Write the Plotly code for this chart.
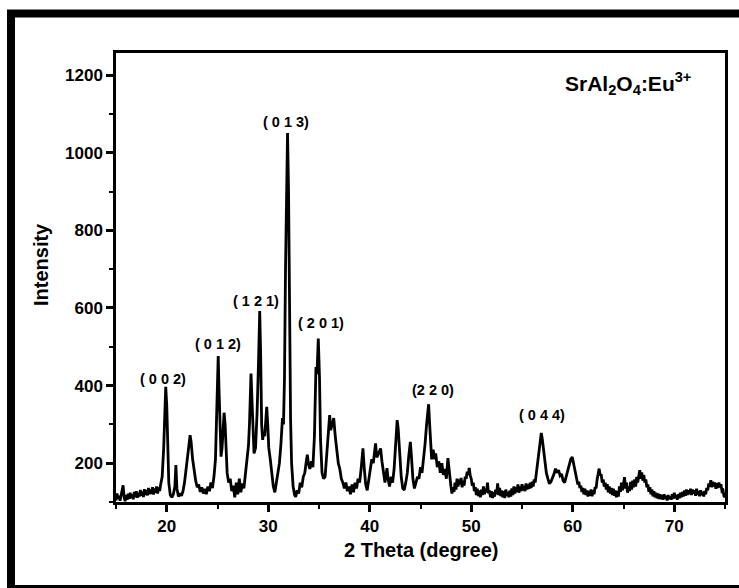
import plotly.graph_objects as go

# --- 2-theta / intensity, in segments ---
theta_a = [
    15.0, 15.1, 15.2, 15.3, 15.4, 15.5, 15.6, 15.7, 15.8, 15.9,
    16.0, 16.1, 16.2, 16.3, 16.4, 16.5, 16.6, 16.7, 16.8, 16.9,
    17.0, 17.1, 17.2, 17.3, 17.4, 17.5, 17.6, 17.7, 17.8, 17.9,
    18.0, 18.1, 18.2, 18.3, 18.4, 18.5, 18.6, 18.7, 18.8, 18.9,
    19.0, 19.1, 19.2, 19.3, 19.4,
]
int_a = [
    104, 122, 108, 116, 103, 120, 132, 143, 112, 102,
    118, 106, 121, 108, 124, 110, 119, 107, 126, 112,
    128, 111, 124, 114, 131, 116, 127, 113, 133, 118,
    130, 117, 136, 120, 132, 121, 138, 119, 135, 124,
    140, 122, 138, 128, 145,
]

theta_b = [
    19.55, 19.7, 19.8, 19.9, 20.0, 20.1, 20.2, 20.35, 20.5,
    20.65, 20.8, 20.9, 21.0, 21.15, 21.3, 21.45, 21.6, 21.75, 21.9,
    22.05, 22.2, 22.3, 22.4, 22.55, 22.7, 22.85, 23.0, 23.15, 23.3,
    23.45, 23.6, 23.75, 23.9, 24.05, 24.2, 24.35, 24.5, 24.65, 24.8,
    24.95, 25.07, 25.15, 25.25, 25.35, 25.45, 25.55, 25.65, 25.75, 25.85,
    25.95, 26.1, 26.25, 26.4, 26.55, 26.7, 26.85, 27.0, 27.15, 27.3,
    27.45, 27.6, 27.75, 27.9, 28.05, 28.15, 28.3, 28.4, 28.5, 28.6,
    28.75, 28.9, 29.05, 29.16, 29.25, 29.35, 29.45, 29.55, 29.65, 29.75,
    29.85, 29.95, 30.05, 30.2, 30.35, 30.5, 30.65, 30.8, 30.95, 31.1,
    31.25, 31.4, 31.5, 31.6, 31.7, 31.8, 31.9, 32.0, 32.1, 32.2,
    32.3, 32.45, 32.6, 32.7, 32.85, 33.0, 33.15, 33.3, 33.45, 33.6,
    33.75, 33.85, 33.95, 34.1, 34.25, 34.4, 34.55, 34.7, 34.8, 34.93,
    35.05, 35.15, 35.3, 35.45, 35.6, 35.75, 35.9, 36.05, 36.15, 36.3,
    36.45, 36.6, 36.75, 36.9, 37.05, 37.2, 37.35, 37.5, 37.65, 37.8,
    37.95, 38.1, 38.25, 38.4, 38.55, 38.7, 38.85, 39.0, 39.15, 39.33,
    39.45, 39.6, 39.75, 39.9, 40.05, 40.2, 40.35, 40.5, 40.57, 40.7,
    40.85, 41.0, 41.07, 41.2, 41.35, 41.5, 41.6, 41.7, 41.8, 41.95,
    42.1, 42.25, 42.4, 42.55, 42.7, 42.8, 42.95, 43.1, 43.25, 43.4,
    43.55, 43.7, 43.85, 44.0, 44.1, 44.25, 44.4, 44.55, 44.7, 44.85,
    45.0, 45.15, 45.3, 45.45, 45.6, 45.8, 45.9, 46.0, 46.1, 46.25,
    46.4, 46.5, 46.65, 46.8, 46.95, 47.1, 47.25, 47.4, 47.55, 47.7,
    47.85,
]
int_b = [
    165, 240, 340, 397, 350, 230, 150, 118, 112,
    120, 140, 195, 135, 114, 122, 116, 128, 150, 190,
    215, 250, 272, 255, 210, 175, 155, 138, 145, 126,
    138, 122, 134, 120, 140, 128, 150, 136, 165, 210,
    330, 476, 390, 260, 217, 240, 280, 330, 300, 220,
    175, 150, 160, 128, 142, 112, 150, 120, 160, 125,
    148, 135, 170, 200, 245, 300, 431, 360, 260, 225,
    240, 330, 470, 592, 480, 300, 260, 280, 270, 310,
    345, 300, 240, 210, 170, 140, 125, 150, 175, 200,
    250, 316, 300, 420, 700, 960, 1051, 900, 560, 313,
    200, 140, 118, 113, 130, 122, 150, 138, 165, 175,
    205, 222, 200, 185, 205, 190, 270, 448, 430, 521,
    420, 260, 175, 160, 165, 215, 270, 324, 285, 300,
    316, 270, 240, 200, 185, 160, 150, 135, 150, 128,
    140, 120, 145, 125, 150, 135, 160, 150, 185, 238,
    190, 145, 130, 160, 175, 210, 200, 245, 251, 215,
    225, 238, 238, 205, 175, 150, 170, 187, 160, 140,
    165, 150, 185, 240, 311, 290, 220, 165, 135, 131,
    150, 175, 220, 255, 220, 160, 135, 150, 165, 160,
    190, 175, 210, 250, 300, 352, 300, 250, 210, 235,
    210, 225, 190, 205, 175, 200, 170, 185, 160, 213,
    170,
]

theta_c = [
    48.0, 48.1, 48.2, 48.3, 48.4, 48.5, 48.6, 48.7, 48.8, 48.9,
    49.0, 49.1, 49.2, 49.3, 49.4, 49.5, 49.6, 49.7, 49.8, 49.9,
    50.0, 50.1, 50.2, 50.3, 50.4, 50.5, 50.6, 50.7, 50.8, 50.9,
    51.0, 51.1, 51.2, 51.3, 51.4, 51.5, 51.6, 51.7, 51.8, 51.9,
    52.0, 52.1, 52.2, 52.3, 52.4, 52.5, 52.6, 52.7, 52.8, 52.9,
    53.0, 53.1, 53.2, 53.3, 53.4, 53.5, 53.6, 53.7, 53.8, 53.9,
    54.0, 54.1, 54.2, 54.3, 54.4, 54.5, 54.6, 54.7, 54.8, 54.9,
    55.0, 55.1, 55.2, 55.3, 55.4, 55.5, 55.6, 55.7, 55.8, 55.9,
    56.0, 56.1, 56.2, 56.3,
]
int_c = [
    140, 122, 138, 126, 150, 132, 160, 140, 158, 145,
    162, 138, 155, 142, 165, 160, 178, 170, 188, 168,
    160, 142, 150, 128, 138, 118, 134, 115, 130, 112,
    132, 118, 140, 120, 134, 125, 150, 122, 130, 112,
    128, 110, 125, 114, 132, 120, 148, 118, 136, 115,
    130, 112, 128, 110, 132, 116, 126, 112, 130, 114,
    135, 118, 140, 122, 138, 126, 145, 124, 140, 128,
    146, 130, 142, 128, 148, 132, 145, 134, 150, 136,
    152, 140, 158, 150,
]

theta_d = [
    56.45, 56.6, 56.75, 56.9, 57.0, 57.1, 57.25, 57.4, 57.55, 57.7,
    57.85, 58.0, 58.15, 58.3, 58.45, 58.6, 58.75, 58.9, 59.05, 59.2,
    59.35, 59.5, 59.65, 59.8, 59.95, 60.1, 60.25,
]
int_d = [
    180, 215, 250, 278, 262, 240, 205, 175, 160, 147,
    152, 160, 172, 186, 175, 182, 168, 172, 155, 150,
    168, 180, 195, 210, 216, 195, 170,
]

theta_e = [
    60.4, 60.5, 60.6, 60.7, 60.8, 60.9, 61.0, 61.1, 61.2, 61.3,
    61.4, 61.5, 61.6, 61.7, 61.8, 61.9, 62.0, 62.1, 62.2, 62.3,
    62.4, 62.5, 62.6, 62.7, 62.8, 62.9, 63.0, 63.1, 63.2, 63.3,
    63.4, 63.5, 63.6, 63.7, 63.8, 63.9, 64.0, 64.1, 64.2, 64.3,
    64.4, 64.5, 64.6, 64.7, 64.8, 64.9, 65.0, 65.1, 65.2, 65.3,
    65.4, 65.5, 65.6, 65.7, 65.8, 65.9, 66.0, 66.1, 66.2, 66.3,
    66.4, 66.5, 66.6, 66.7, 66.8, 66.9, 67.0, 67.1, 67.2, 67.3,
    67.4, 67.5, 67.6, 67.7, 67.8, 67.9, 68.0, 68.1, 68.2, 68.3,
    68.4, 68.5, 68.6, 68.7, 68.8, 68.9, 69.0, 69.1, 69.2, 69.3,
    69.4, 69.5, 69.6, 69.7, 69.8, 69.9, 70.0, 70.1, 70.2, 70.3,
    70.4, 70.5, 70.6, 70.7, 70.8, 70.9, 71.0, 71.1, 71.2, 71.3,
    71.4, 71.5, 71.6, 71.7, 71.8, 71.9, 72.0, 72.1, 72.2, 72.3,
    72.4, 72.5, 72.6, 72.7, 72.8, 72.9, 73.0, 73.1, 73.2, 73.3,
    73.4, 73.5, 73.6, 73.7, 73.8, 73.9, 74.0, 74.1, 74.2, 74.3,
    74.4, 74.5, 74.6, 74.7, 74.8, 74.9, 75.0,
]
int_e = [
    158, 145, 152, 136, 142, 126, 136, 120, 134, 118,
    130, 114, 128, 116, 132, 115, 130, 120, 138, 135,
    158, 170, 186, 168, 172, 150, 158, 140, 150, 132,
    146, 125, 140, 122, 136, 118, 134, 116, 130, 112,
    128, 114, 140, 126, 150, 130, 148, 164, 135, 150,
    124, 140, 128, 152, 132, 155, 138, 158, 140, 165,
    150, 172, 182, 160, 176, 155, 170, 150, 158, 138,
    145, 126, 138, 120, 132, 115, 128, 112, 124, 110,
    122, 108, 120, 107, 118, 106, 120, 108, 116, 104,
    118, 108, 114, 106, 120, 108, 124, 110, 118, 106,
    120, 110, 124, 112, 126, 114, 130, 116, 132, 118,
    130, 120, 134, 118, 132, 122, 130, 116, 134, 118,
    128, 115, 130, 118, 126, 114, 128, 120, 136, 130,
    148, 140, 156, 138, 152, 140, 150, 134, 148, 136,
    150, 138, 146, 128, 130, 115, 112,
]

two_theta = theta_a + theta_b + theta_c + theta_d + theta_e
intensity = int_a + int_b + int_c + int_d + int_e

peak_labels = ["( 0 0 2)", "( 0 1 2)", "( 1 2 1)", "( 0 1 3)", "( 2 0 1)", "(2 2 0)", "( 0 4 4)"]
label_x = [19.6, 25.07, 28.8, 31.7, 35.2, 46.2, 57.0]
label_y = [416, 507, 618, 1080, 562, 388, 324]

x_ticks = [20, 30, 40, 50, 60, 70]
y_ticks = [200, 400, 600, 800, 1000, 1200]

FONT = "Liberation Sans, Arial, sans-serif"

fig = go.Figure()
fig.add_trace(go.Scatter(
    x=two_theta, y=intensity, mode="lines",
    line=dict(color="black", width=2.8),
    showlegend=False, hoverinfo="skip",
))

axis_common = dict(
    showline=True, linecolor="black", linewidth=2.5, mirror=True,
    ticks="outside", ticklen=7, tickwidth=2.5, tickcolor="black",
    showgrid=False, zeroline=False,
    tickfont=dict(family=FONT, size=17, color="black", weight="bold"),
)

fig.update_xaxes(range=[15, 75], tickvals=x_ticks,
                 minor=dict(ticks="outside", ticklen=4, tickwidth=2, tickcolor="black", dtick=5, tick0=0),
                 **axis_common)
fig.update_yaxes(range=[100, 1257], tickvals=y_ticks,
                 minor=dict(ticks="outside", ticklen=4, tickwidth=2, tickcolor="black", dtick=100, tick0=0),
                 **axis_common)

annotations = []
for t, xx, yy in zip(peak_labels, label_x, label_y):
    annotations.append(dict(x=xx, y=yy, xref="x", yref="y", text=t, showarrow=False,
                            xanchor="center", yanchor="middle",
                            font=dict(family=FONT, size=14.5, color="black", weight="bold")))

annotations.append(dict(x=0.9475, y=0.931, xref="paper", yref="paper",
                        text="SrAl<sub>2</sub>O<sub>4</sub>:Eu<sup>3+</sup>", showarrow=False,
                        xanchor="right", yanchor="middle",
                        font=dict(family=FONT, size=21, color="black", weight="bold")))
annotations.append(dict(x=0.5, y=-0.1058, xref="paper", yref="paper",
                        text="2 Theta (degree)", showarrow=False,
                        xanchor="center", yanchor="middle",
                        font=dict(family=FONT, size=20, color="black", weight="bold")))
annotations.append(dict(x=-0.1223, y=0.529, xref="paper", yref="paper",
                        text="Intensity", showarrow=False, textangle=-90,
                        xanchor="center", yanchor="middle",
                        font=dict(family=FONT, size=20, color="black", weight="bold")))

fig.update_layout(
    width=739, height=588,
    margin=dict(l=116, r=14, t=53, b=86),
    paper_bgcolor="white", plot_bgcolor="white",
    annotations=annotations,
    shapes=[dict(type="rect", xref="paper", yref="paper",
                 x0=-0.1724, x1=1.07, y0=-0.1938, y1=1.088,
                 line=dict(color="black", width=8), fillcolor="rgba(0,0,0,0)", layer="above")],
)

fig.write_html("out.html", config={"displayModeBar": False},
               post_script="document.body.style.margin='0';document.body.style.overflow='hidden';")
